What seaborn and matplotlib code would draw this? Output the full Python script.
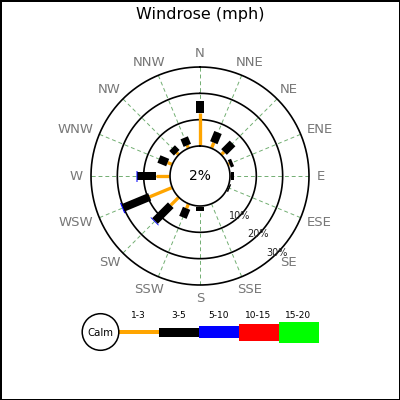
import numpy as np
import pandas as pd
import seaborn as sns
import matplotlib
matplotlib.use("Agg")
import matplotlib.pyplot as plt
from matplotlib.patches import Circle, Rectangle

# ---------------- data ----------------
directions = ['N', 'NNE', 'NE', 'ENE', 'E', 'ESE', 'SE', 'SSE',
              'S', 'SSW', 'SW', 'WSW', 'W', 'WNW', 'NW', 'NNW']
speed_bins = ['1-3', '3-5', '5-10', '10-15', '15-20']
speed_1_3 = [12.4, 2.3, 1.5, 0.7, 0.2, 0.2, 0.0, 0.0, 0.5, 1.9, 4.3, 9.3, 5.4, 1.9, 1.1, 1.2]
speed_3_5 = [4.8, 4.2, 4.6, 1.3, 1.4, 0.6, 0.0, 0.0, 1.3, 3.7, 8.5, 10.9, 7.2, 3.6, 2.5, 3.1]
speed_5_10 = [0, 0, 0, 0, 0, 0, 0, 0, 0, 0, 0.3, 0.4, 0.3, 0, 0, 0]
speed_10_15 = [0] * 16
speed_15_20 = [0] * 16
calm_pct = 2
ring_values = [10, 20, 30]
unit = 'mph'

bin_colors = ['#FFA500', '#000000', '#0000FF', '#FF0000', '#00FF00']
chart_widths_px = [3.3, 8, 11, 15, 19]
legend_heights_px = [4, 9, 12.5, 17, 21]

df = pd.DataFrame({'direction': directions, '1-3': speed_1_3, '3-5': speed_3_5,
                   '5-10': speed_5_10, '10-15': speed_10_15, '15-20': speed_15_20})

sns.set_theme(style='white')
plt.rcParams['font.family'] = ['DejaVu Sans']
plt.rcParams['text.color'] = 'black'

W = H = 400
fig = plt.figure(figsize=(4, 4), dpi=100, facecolor='white', edgecolor='black', linewidth=2)

# polar axes: centre at (200,176) px, 30% ring radius 109 px, calm radius 30 px
cx, cy, R30 = 200, 176, 109
px_per_pct = (R30 - 30) / 30.0
calm_off = 30 / px_per_pct
rmax = calm_off + 30
pad = 3
R = R30 + pad * px_per_pct
ax = fig.add_axes([(cx - R) / W, (H - cy - R) / H, 2 * R / W, 2 * R / H], projection='polar')
ax.set_theta_zero_location('N')
ax.set_theta_direction(-1)
ax.set_ylim(0, rmax + pad)
ax.set_axis_off()

angles = np.deg2rad(np.arange(16) * 22.5)
tt = np.linspace(0, 2 * np.pi, 400)

# spokes (dashed green), none at SE where ring labels sit
for d, a in zip(directions, angles):
    if d == 'SE':
        continue
    ax.plot([a, a], [calm_off, rmax], color='#4f9a4f', lw=0.7, alpha=0.8,
            dashes=(4, 3), zorder=1)

# rings
for rv in ring_values:
    ax.plot(tt, np.full_like(tt, calm_off + rv), color='black', lw=1.2, zorder=2)

# bars
for i, a in enumerate(angles):
    base = calm_off
    for b, col, wpx in zip(speed_bins, bin_colors, chart_widths_px):
        v = df.loc[i, b]
        if v > 0:
            ax.plot([a, a], [base, base + v], color=col, lw=wpx * 0.72,
                    solid_capstyle='butt', zorder=3)
        base += v

# calm circle
ax.fill(tt, np.full_like(tt, calm_off), color='white', zorder=4)
ax.plot(tt, np.full_like(tt, calm_off), color='black', lw=1.2, zorder=5)
ax.text(0, 0, f'{calm_pct}%', ha='center', va='center', fontsize=10, zorder=6)

# ring labels at SE
for rv in ring_values:
    ax.text(np.deg2rad(135), calm_off + rv, f'{rv}%', ha='center', va='center',
            fontsize=7, color='#222222', zorder=6)

# direction labels: anchored at a base radius, pushed outward by half their extent
lab_r = calm_off + (117 - 30) / px_per_pct
renderer = fig.canvas.get_renderer()
for d, a in zip(directions, angles):
    t = ax.annotate(d, xy=(a, lab_r), xytext=(0, 0), textcoords='offset pixels',
                    ha='center', va='center', fontsize=9.5, color='#777777',
                    annotation_clip=False)
    bb = t.get_window_extent(renderer)
    hw, hh = bb.width / 2, 5.5
    t.xyann = (hw * np.sin(a), hh * np.cos(a))

# title
fig.text(0.5, 1 - 15 / H, f'Windrose ({unit})', ha='center', va='center', fontsize=11.5,
         color='black')

# legend in pixel coordinates
lax = fig.add_axes([0, 0, 1, 1], facecolor='none')
lax.set_xlim(0, W)
lax.set_ylim(H, 0)
lax.set_axis_off()
lax.add_patch(Circle((100.5, 332), 18.3, facecolor='white', edgecolor='black', lw=1.1, zorder=3))
lax.text(100.5, 332.5, 'Calm', ha='center', va='center', fontsize=7.3, zorder=4)
x0 = 118.5
for b, col, h in zip(speed_bins, bin_colors, legend_heights_px):
    lax.add_patch(Rectangle((x0, 332 - h / 2), 40, h, facecolor=col, edgecolor='none', zorder=2))
    lax.text(x0 + 20, 315, b, ha='center', va='center', fontsize=6.5)
    x0 += 40

fig.savefig('out.png', dpi=100, facecolor='white', edgecolor=fig.get_edgecolor())
